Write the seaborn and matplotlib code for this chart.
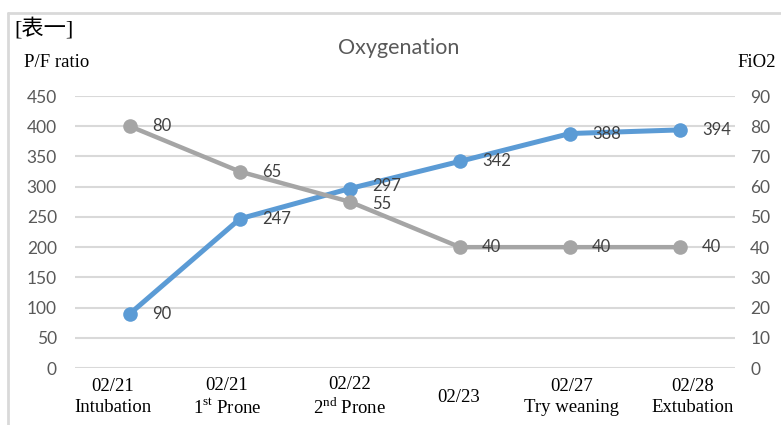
import numpy as np
import matplotlib
matplotlib.use("Agg")
import matplotlib.pyplot as plt
from matplotlib.lines import Line2D
from matplotlib.transforms import ScaledTranslation, blended_transform_factory
import seaborn as sns

# Timeline categories (date + event) and the two measured series
dates = ["02/21", "02/21", "02/22", "02/23", "02/27", "02/28"]
events = ["Intubation", "1$^{\\rm st}$ Prone", "2$^{\\rm nd}$ Prone", "", "Try weaning", "Extubation"]
pf_ratio = [90, 247, 297, 342, 388, 394]
fio2 = [80, 65, 55, 40, 40, 40]

left_ticks = list(range(0, 451, 50))
right_ticks = list(range(0, 91, 10))

sns.set_theme(style="white")
plt.rcParams["font.family"] = ["Lato", "DejaVu Sans"]
plt.rcParams["mathtext.fontset"] = "custom"
plt.rcParams["mathtext.rm"] = "Liberation Serif"

BLUE = "#5B9BD5"
GREY = "#A5A5A5"
GRID = "#D9D9D9"
TICK = "#595959"
LABEL = "#404040"
SERIF = ["Liberation Serif", "Noto Sans CJK SC"]

fig = plt.figure(figsize=(7.81, 4.25), dpi=100)
ax = fig.add_axes([0.096, 0.134, 0.845, 0.640])
ax2 = ax.twinx()

x = np.arange(len(dates))

sns.lineplot(x=x, y=pf_ratio, ax=ax, color=BLUE, linewidth=3.6, marker="o",
             markersize=10.5, markeredgewidth=0, zorder=3)
sns.lineplot(x=x, y=fio2, ax=ax2, color=GREY, linewidth=3.2, marker="o",
             markersize=10.5, markeredgewidth=0, zorder=3)

# value labels to the right of each point (the crowded pair at 02/22 nudged apart)
pf_dy = [0, 0, 1.5, 0, 0, 0]
fio_dy = [0, 0, -1.5, 0, 0, 0]
for xi, v, dy in zip(x, pf_ratio, pf_dy):
    ax.annotate(str(v), (xi, v), xytext=(16, dy), textcoords="offset points",
                ha="left", va="center", fontsize=12, color=LABEL, zorder=5)
for xi, v, dy in zip(x, fio2, fio_dy):
    ax2.annotate(str(v), (xi, v), xytext=(16, dy), textcoords="offset points",
                 ha="left", va="center", fontsize=12, color=LABEL, zorder=5)

ax.set_xlim(-0.5, len(dates) - 0.5)
ax.set_ylim(0, 450)
ax2.set_ylim(0, 90)
ax.set_yticks(left_ticks)
ax2.set_yticks(right_ticks)
ax.set_yticklabels([str(t) for t in left_ticks])
ax2.set_yticklabels([str(t) for t in right_ticks])

# horizontal gridlines
for t in left_ticks:
    ax.axhline(t, color=GRID, linewidth=1.5, zorder=0)

# category captions below the axis, each shifted slightly (pixels)
ax.set_xticks(x)
ax.set_xticklabels([])
label_dx = [-17, -13, 0, -1, 2, 13]
base = blended_transform_factory(ax.transData, ax.transAxes)
for xi, d, e, dx in zip(x, dates, events, label_dx):
    text = d + ("\n" + e if e else "")
    tr = base + ScaledTranslation(dx / 100, -29 / 100, fig.dpi_scale_trans)
    ax.text(xi, 0, text, transform=tr, ha="center", va="center",
            multialignment="center", fontfamily=SERIF, fontsize=13.5,
            color="black", linespacing=1.3)
ax.tick_params(axis="x", length=0)
ax.tick_params(axis="y", length=0, pad=13, labelsize=12.5, labelcolor=TICK)
ax2.tick_params(axis="y", length=0, pad=11, labelsize=12.5, labelcolor=TICK)

for a in (ax, ax2):
    for s in a.spines.values():
        s.set_visible(False)
    a.set_xlabel("")
    a.set_ylabel("")

# chart title and axis captions
fig.text(0.510, 0.887, "Oxygenation", ha="center", va="center",
         fontsize=15.5, color=TICK)
fig.text(0.031, 0.854, "P/F ratio", ha="left", va="center",
         fontfamily=SERIF, fontsize=13.5, color="black")
fig.text(0.994, 0.854, "FiO2", ha="right", va="center",
         fontfamily=SERIF, fontsize=13.5, color="black")

# frame lines along the top and left edges
fig.add_artist(Line2D([0.010, 1.0], [0.969, 0.969], transform=fig.transFigure,
                      color=GRID, linewidth=2))
fig.add_artist(Line2D([0.010, 0.010], [0.0, 0.969], transform=fig.transFigure,
                      color=GRID, linewidth=2))
fig.text(0.019, 0.932, "[表一]", ha="left", va="center", fontfamily=SERIF,
         fontsize=16, color="black",
         bbox=dict(facecolor="white", edgecolor="none", pad=1.5))

fig.savefig("out.png", dpi=100)
